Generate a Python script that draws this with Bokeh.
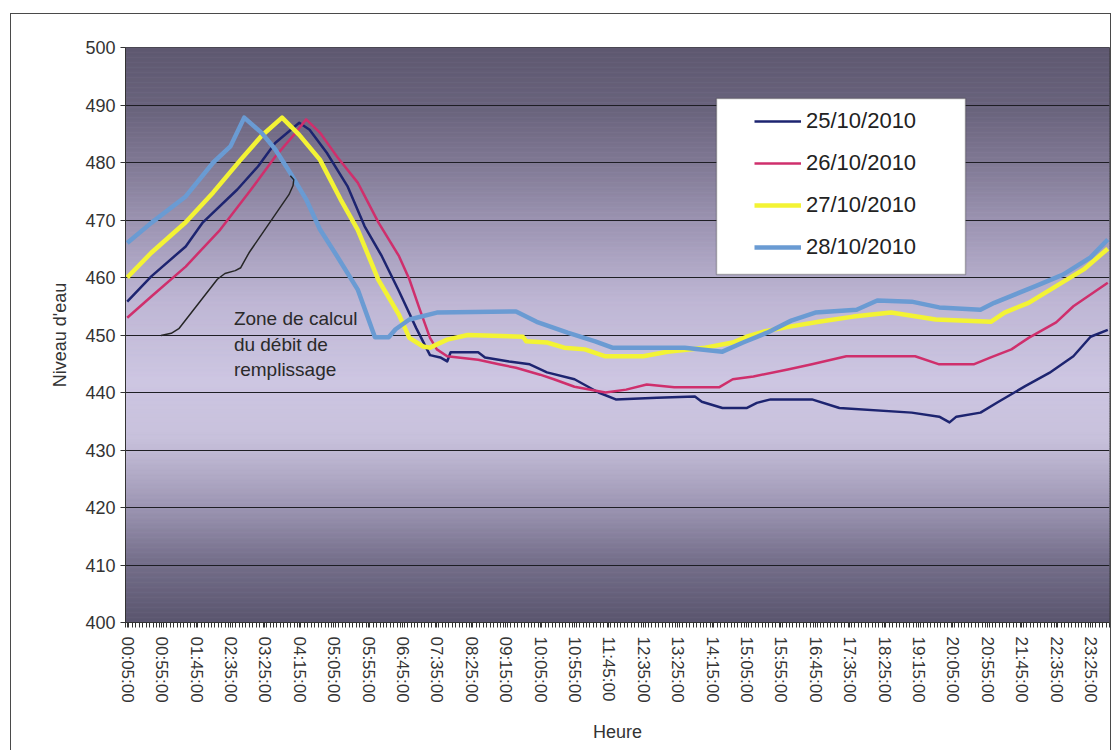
import numpy as np
from bokeh.plotting import figure
from bokeh.models import FixedTicker, Legend, LegendItem, BoxAnnotation, Label
from bokeh.embed import file_html
from bokeh.resources import INLINE

# --- water level readings (time of day, level) for each day ---
t_25 = ["00:05", "00:40", "01:30", "01:55", "02:45", "03:15", "03:40", "04:15", "04:30", "04:55",
        "05:25", "05:50", "06:15", "06:40", "07:05", "07:25", "07:40", "07:50", "07:55", "08:35",
        "08:45", "09:20", "09:50", "10:15", "10:55", "11:30", "11:55", "12:55", "13:50", "14:00",
        "14:30", "15:05", "15:20", "15:40", "16:40", "17:20", "19:05", "19:45", "20:00", "20:10",
        "20:45", "21:10", "21:50", "22:25", "23:00", "23:25", "23:50"]
v_25 = [455.8, 460.2, 465.4, 469.6, 475.3, 479.3, 483.4, 486.9, 485.7, 481.7,
        475.9, 468.9, 463.7, 457.6, 451.2, 446.5, 446.1, 445.4, 447.0, 447.0,
        446.1, 445.4, 444.9, 443.5, 442.3, 440.0, 438.8, 439.1, 439.3, 438.4,
        437.3, 437.3, 438.2, 438.8, 438.8, 437.3, 436.5, 435.8, 434.8, 435.8,
        436.5, 438.3, 441.1, 443.4, 446.3, 449.7, 450.9]

t_26 = ["00:05", "00:40", "01:30", "02:20", "03:05", "03:40", "04:10", "04:25", "04:45", "05:10",
        "05:40", "06:10", "06:40", "06:55", "07:10", "07:25", "07:35", "07:50", "08:35", "09:05",
        "09:30", "10:05", "10:25", "10:55", "11:40", "12:10", "12:40", "13:20", "14:25", "14:45",
        "15:15", "16:05", "16:40", "17:30", "19:10", "19:45", "20:35", "21:00", "21:30", "21:55",
        "22:35", "23:00", "23:50"]
v_26 = [453.0, 456.7, 461.9, 468.3, 475.3, 481.0, 485.2, 487.5, 485.2, 481.0,
        476.5, 469.6, 463.7, 459.7, 454.5, 449.5, 447.5, 446.3, 445.7, 444.9,
        444.3, 443.1, 442.3, 441.0, 440.0, 440.5, 441.4, 440.9, 440.9, 442.3,
        442.8, 444.0, 444.9, 446.3, 446.3, 444.9, 444.9, 446.1, 447.5, 449.5,
        452.2, 455.0, 459.1]

t_27 = ["00:05", "00:40", "01:30", "02:10", "02:50", "03:20", "03:50", "04:15", "04:45", "05:15",
        "05:40", "06:10", "06:40", "06:55", "07:15", "07:25", "07:50", "08:20", "09:40", "09:45",
        "10:15", "10:40", "11:10", "11:40", "12:35", "13:10", "14:05", "14:45", "15:05", "15:30",
        "16:10", "16:50", "17:40", "18:35", "19:40", "21:00", "21:20", "21:55", "22:35", "23:15",
        "23:50"]
v_27 = [460.0, 464.3, 469.6, 474.8, 480.5, 484.6, 487.8, 484.8, 480.5, 473.6,
        468.3, 459.6, 453.5, 449.5, 448.0, 447.8, 449.2, 450.0, 449.7, 448.9,
        448.7, 447.8, 447.5, 446.3, 446.3, 447.1, 447.8, 448.7, 449.7, 450.6,
        451.5, 452.3, 453.2, 453.9, 452.7, 452.3, 453.9, 455.6, 458.5, 461.4,
        465.0]

t_28 = ["00:05", "00:40", "01:30", "02:10", "02:35", "02:55", "03:20", "03:40", "04:05", "04:25",
        "04:45", "05:10", "05:40", "06:05", "06:25", "06:35", "06:55", "07:35", "09:30", "10:00",
        "10:45", "11:25", "11:50", "13:35", "14:30", "15:00", "15:35", "16:10", "16:45", "17:45",
        "18:15", "19:05", "19:45", "20:45", "21:05", "22:05", "22:45", "23:25", "23:50"]
v_28 = [466.0, 469.5, 474.1, 480.0, 482.8, 487.8, 485.2, 482.3, 477.6, 473.6,
        468.4, 463.7, 457.9, 449.6, 449.6, 451.0, 452.7, 453.9, 454.1, 452.3,
        450.4, 448.9, 447.8, 447.8, 447.1, 448.7, 450.4, 452.5, 453.9, 454.4,
        456.0, 455.8, 454.8, 454.4, 455.6, 458.5, 460.5, 463.5, 466.6]

series_names = ["25/10/2010", "26/10/2010", "27/10/2010", "28/10/2010"]
series_colors = ["#1d2470", "#cf2f6c", "#f3f334", "#6a9bd3"]
series_widths = [2.5, 2.5, 4.5, 4.5]

# category axis: one sample every 5 minutes, labelled every 50 minutes
tick_labels = ["00:05:00", "00:55:00", "01:45:00", "02:35:00", "03:25:00", "04:15:00", "05:05:00",
               "05:55:00", "06:45:00", "07:35:00", "08:25:00", "09:15:00", "10:05:00", "10:55:00",
               "11:45:00", "12:35:00", "13:25:00", "14:15:00", "15:05:00", "15:55:00", "16:45:00",
               "17:35:00", "18:25:00", "19:15:00", "20:05:00", "20:55:00", "21:45:00", "22:35:00",
               "23:25:00"]
y_ticks = [400, 410, 420, 430, 440, 450, 460, 470, 480, 490, 500]


def minutes(t):
    h, m = t.split(":")[:2]
    return int(h) * 60 + int(m)


FONT = "Liberation Sans"
x_lo, x_hi = 2.5, 1432.5

# the chart sits inside a thin framed panel (open at the bottom edge of the page)
p = figure(width=1101, height=737, output_backend="svg", toolbar_location=None,
           x_range=(x_lo, x_hi), y_range=(400, 500),
           min_border_left=114, min_border_right=3, min_border_top=33, min_border_bottom=129,
           background_fill_color="#c8c1da", border_fill_color="white",
           margin=(13, 0, 0, 10),
           styles={"border-top": "1px solid #4a4a4a", "border-left": "1px solid #4a4a4a",
                   "border-right": "1px solid #4a4a4a"})

# banded vertical gradient behind the plot area
stops_f = [0.0, 0.11, 0.2, 0.32, 0.44, 0.58, 0.68, 0.79, 0.89, 1.0]
stops_rgb = np.array([[94, 88, 112], [106, 100, 125], [128, 121, 148], [160, 152, 182],
                      [190, 182, 212], [205, 198, 226], [200, 193, 220], [160, 153, 182],
                      [118, 112, 140], [90, 85, 110]], dtype=float)
n_band = 230
edges = np.linspace(500, 400, n_band + 1)
mids = (edges[:-1] + edges[1:]) / 2
frac = (500 - mids) / 100
cols = []
for f in frac:
    rgb = [np.interp(f, stops_f, stops_rgb[:, k]) for k in range(3)]
    cols.append("#%02x%02x%02x" % tuple(int(round(c)) for c in rgb))
bg = p.quad(left=x_lo, right=x_hi, top=edges[:-1], bottom=edges[1:],
            fill_color=cols, line_color=cols, line_width=0.6)
bg.level = "image"

# grid
p.xgrid.visible = False
p.ygrid.ticker = FixedTicker(ticks=y_ticks)
p.ygrid.grid_line_color = "#1e1e24"
p.ygrid.grid_line_width = 1

# series
renderers = []
for t, v, c, w in zip([t_25, t_26, t_27, t_28], [v_25, v_26, v_27, v_28],
                      series_colors, series_widths):
    r = p.line([minutes(s) for s in t], v, line_color=c, line_width=w, line_join="round")
    renderers.append(r)

# bracket pointing at the filling slope
brace_x = [54, 69, 80, 136, 147, 162, 170, 175, 182, 240, 246, 247, 242]
brace_y = [449.9, 450.3, 451.1, 459.7, 460.7, 461.2, 461.7, 462.8, 464.3, 474.4, 476.0, 477.0, 477.7]
p.line(brace_x, brace_y, line_color="#262626", line_width=1.5, line_join="round")

p.add_layout(Label(x=160, y=454.7, text="Zone de calcul\ndu débit de\nremplissage",
                   text_font=FONT, text_font_size="19px", text_color="#2a2a2a",
                   text_baseline="top", text_line_height=1.22))

# axes
major_x = [minutes(s) for s in tick_labels]
minor_x = [2.5 + 5 * k for k in range(287)]
p.xaxis.ticker = FixedTicker(ticks=major_x, minor_ticks=minor_x)
p.xaxis.major_label_overrides = {m: s for m, s in zip(major_x, tick_labels)}
p.xaxis.major_label_orientation = "vertical"
p.xaxis.axis_label = "Heure"
p.yaxis.ticker = FixedTicker(ticks=y_ticks)
p.yaxis.axis_label = "Niveau d'eau"
for ax in (p.xaxis[0], p.yaxis[0]):
    ax.axis_line_color = "#333333"
    ax.major_tick_line_color = "#333333"
    ax.minor_tick_line_color = "#333333"
    ax.major_tick_in = 0
    ax.major_tick_out = 5
    ax.minor_tick_in = 0
    ax.minor_tick_out = 5
    ax.major_label_text_font = FONT
    ax.major_label_text_color = "#333333"
    ax.axis_label_text_font = FONT
    ax.axis_label_text_font_style = "normal"
    ax.axis_label_text_color = "#333333"
    ax.axis_label_text_font_size = "18px"
p.xaxis.major_label_text_font_size = "17px"
p.yaxis.major_label_text_font_size = "18px"
p.xaxis.major_label_standoff = 9
p.xaxis.axis_label_standoff = 16
p.yaxis.major_label_standoff = 5
p.yaxis.axis_label_standoff = 12
p.outline_line_color = "#3a3a3a"
p.outline_line_width = 1

# legend panel
p.add_layout(BoxAnnotation(left=704, right=953, top=83, bottom=259,
                           left_units="canvas", right_units="canvas",
                           top_units="canvas", bottom_units="canvas",
                           fill_color="white", fill_alpha=1, line_color="#202020",
                           line_width=1.5, level="annotation"))

legend = Legend(items=[LegendItem(label=n, renderers=[r]) for n, r in zip(series_names, renderers)],
                location=(619, 350), padding=10, spacing=12, glyph_width=47, glyph_height=30,
                label_height=30, label_standoff=5, label_text_font=FONT,
                label_text_font_size="22px", label_text_color="#222222",
                background_fill_alpha=0, border_line_alpha=0)
p.add_layout(legend)

open("out.html", "w").write(file_html(p, INLINE))
